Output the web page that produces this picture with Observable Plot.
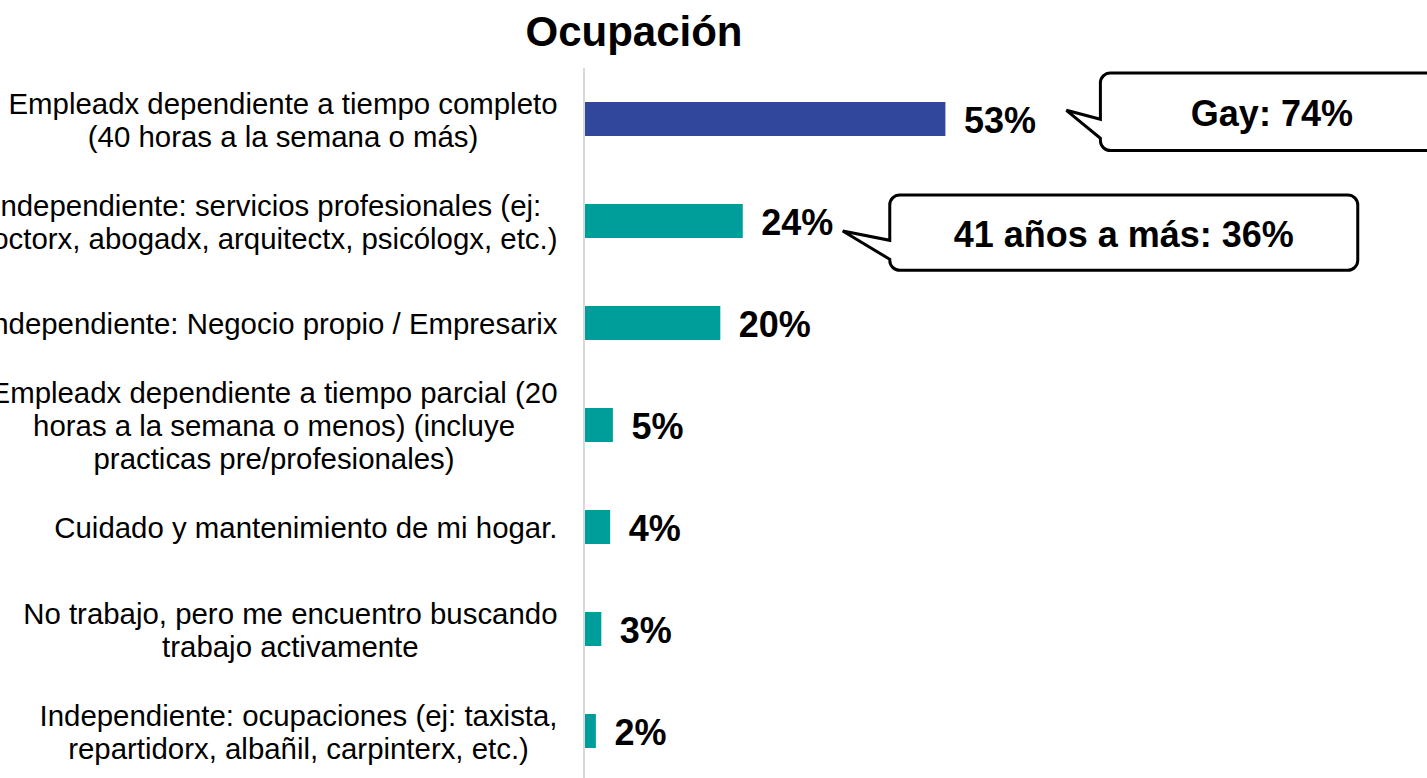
<!DOCTYPE html>
<html>
<head>
<meta charset="utf-8">
<script src="https://cdn.jsdelivr.net/npm/d3@7"></script>
<script src="https://cdn.jsdelivr.net/npm/@observablehq/plot@0.6"></script>
<style>
html, body { margin: 0; padding: 0; overflow: hidden; background: #fff; }
body { width: 1427px; height: 778px; position: relative; font-family: "Liberation Sans", Arial, sans-serif; }
#chart { position: absolute; left: 0; top: 0; }
#title { position: absolute; left: 0; top: 11px; width: 1268px; text-align: center;
         font-weight: bold; font-size: 42px; line-height: 42px; color: #000; }
</style>
</head>
<body>
<div id="chart"></div>
<div id="title">Ocupación</div>
<script>
// ---- data ----
const categories = [
  "Empleadx dependiente a tiempo completo\n(40 horas a la semana o más)",
  "Independiente: servicios profesionales (ej:\ndoctorx, abogadx, arquitectx, psicólogx, etc.)",
  "Independiente: Negocio propio / Empresarix",
  "Empleadx dependiente a tiempo parcial (20\nhoras a la semana o menos) (incluye\npracticas pre/profesionales)",
  "Cuidado y mantenimiento de mi hogar.",
  "No trabajo, pero me encuentro buscando\ntrabajo activamente",
  "Independiente: ocupaciones (ej: taxista,\nrepartidorx, albañil, carpinterx, etc.)"
];
const values = [53.0, 23.2, 19.9, 4.1, 3.7, 2.4, 1.6];
const labels = ["53%", "24%", "20%", "5%", "4%", "3%", "2%"];
const calloutCategories = [categories[0], categories[1]];
const calloutTexts = ["Gay: 74%", "41 años a más: 36%"];

// ---- styles / layout ----
const BLUE = "#30479b";
const TEAL = "#009e9a";
const FONT = '"Liberation Sans", Arial, sans-serif';
const PX_PER_PCT = 6.8;
const calloutLayout = [
  {left: 155, right: 498, top: -46, bottom: 31.5, n1: 0.3, n2: 19.3, tipX: 121, tipY: -8.7},
  {left: 147, right: 615, top: -26, bottom: 49.3, n1: 19.3, n2: 38.3, tipX: 100, tipY: 10}
];

const rows = categories.map((c, i) => ({category: c, value: values[i], label: labels[i], rank: i}));

const chart = Plot.plot({
  width: 1427,
  height: 781,
  marginTop: 68,
  marginBottom: 0,
  marginLeft: 585,
  marginRight: 0,
  style: {fontFamily: FONT, background: "white", overflow: "hidden"},
  x: {domain: [0, (1427 - 585) / PX_PER_PCT], axis: null},
  y: {domain: categories, axis: null, paddingInner: 0.667, paddingOuter: 0.32},
  color: {type: "identity"},
  marks: [
    Plot.barX(rows, {x: "value", y: "category", fill: d => d.rank === 0 ? BLUE : TEAL}),
    Plot.ruleX([0], {stroke: "#d9d9d9", strokeWidth: 2, dx: -1.5}),
    Plot.text(rows, {x: "value", y: "category", text: "label", textAnchor: "start",
      dx: 18, dy: 2, fontSize: 36, fontWeight: "bold", fill: "#000"}),
    Plot.text(rows, {y: "category", text: "category", frameAnchor: "left", dx: -28,
      textAnchor: "end", fontSize: 29.4, lineHeight: 1.13, fill: "#000"})
  ]
});

document.getElementById("chart").appendChild(chart);

// center multi-line category labels (right edge of the longest line stays put)
chart.querySelectorAll("text").forEach(t => {
  const spans = t.querySelectorAll("tspan");
  if (spans.length < 2) return;
  const widths = Array.from(spans, s => s.getComputedTextLength());
  const m = Math.max(...widths);
  t.setAttribute("text-anchor", "middle");
  t.style.textAnchor = "middle";
  spans.forEach(s => { s.setAttribute("x", -m / 2); s.setAttribute("text-anchor", "middle"); });
});

// callouts anchored to the bars through the plot's scales
const xs = chart.scale("x"), ys = chart.scale("y");
const g = d3.select(chart).append("g").attr("aria-label", "callouts");
calloutTexts.forEach((txt, i) => {
  const j = categories.indexOf(calloutCategories[i]);
  const xe = xs.apply(values[j]);
  const yc = ys.apply(categories[j]) + ys.bandwidth / 2;
  const c = calloutLayout[i];
  const L = xe + c.left, R = xe + c.right, T = yc + c.top, B = yc + c.bottom;
  const N1 = yc + c.n1, N2 = yc + c.n2, TX = xe + c.tipX, TY = yc + c.tipY;
  const r = 10;
  const d = `M${L + r},${T} H${R - r} A${r},${r} 0 0 1 ${R},${T + r} V${B - r} ` +
            `A${r},${r} 0 0 1 ${R - r},${B} H${L + r} A${r},${r} 0 0 1 ${L},${B - r} ` +
            `V${N2} L${TX},${TY} L${L},${N1} V${T + r} A${r},${r} 0 0 1 ${L + r},${T} Z`;
  g.append("path").attr("d", d).attr("fill", "#fff").attr("stroke", "#000")
    .attr("stroke-width", 3).attr("stroke-linejoin", "miter");
  g.append("text").attr("x", (L + R) / 2).attr("y", (T + B) / 2 + 14.5)
    .attr("text-anchor", "middle").attr("font-size", 36).attr("font-weight", "bold")
    .attr("font-family", FONT).attr("fill", "#000").text(txt);
});
</script>
</body>
</html>
